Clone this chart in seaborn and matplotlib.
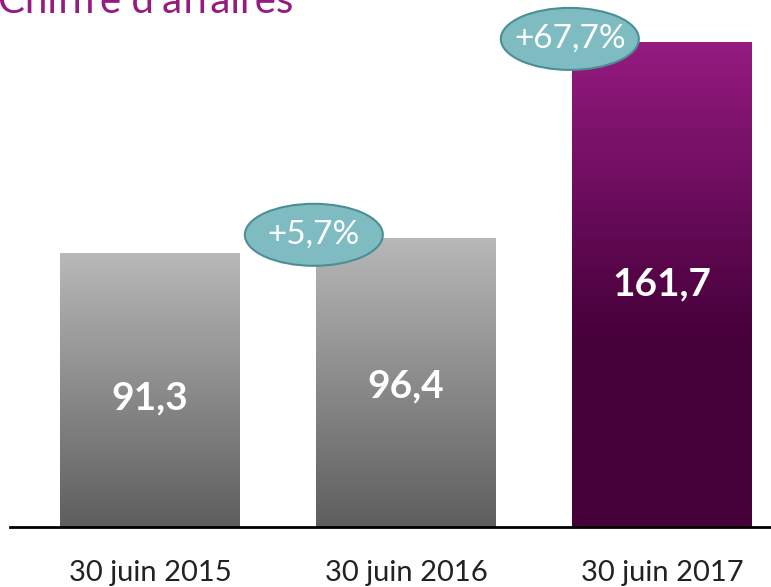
"""
Chiffre d'affaires au 30 juin - barres avec dégradé
"""

import numpy as np
import pandas as pd
import matplotlib
matplotlib.use("Agg")
import matplotlib.pyplot as plt
from matplotlib.colors import LinearSegmentedColormap
from matplotlib.patches import Ellipse
import seaborn as sns

# Données
periodes = ["30 juin 2015", "30 juin 2016", "30 juin 2017"]
valeurs = [91.3, 96.4, 161.7]
etiquettes = ["91,3", "96,4", "161,7"]
variations = ["", "+5,7%", "+67,7%"]

df = pd.DataFrame({"periode": periodes, "valeur": valeurs})

sns.set_theme(style="white")
plt.rcParams["font.family"] = ["Lato", "DejaVu Sans"]

fig = plt.figure(figsize=(7.71, 5.87), dpi=100)
ax = fig.add_axes([10 / 771, 60 / 587, 761 / 771, 527 / 587])

sns.barplot(data=df, x="periode", y="valeur", color="#999999", width=0.7, ax=ax)

ax.set_ylim(0, 527 / 3.0)
ax.set_xlim(-140 / 256, 2 + 109 / 256)

# Dégradés
gris = LinearSegmentedColormap.from_list("gris", ["#5e5e5e", "#b8b8b8"])
violet = LinearSegmentedColormap.from_list(
    "violet", [(0, "#45003a"), (0.4, "#47003b"), (1, "#951b81")])
grad = np.linspace(0, 1, 256).reshape(-1, 1)

for i, barre in enumerate(ax.patches):
    x0, y0 = barre.get_x(), barre.get_y()
    w, h = barre.get_width(), barre.get_height()
    cmap = violet if i == 2 else gris
    img = ax.imshow(grad, cmap=cmap, aspect="auto", origin="lower",
                    extent=[x0, x0 + w, y0, y0 + h], zorder=2)
    img.set_clip_path(barre)
    barre.set_edgecolor("none")

# Valeurs dans les barres
pos_etiquettes = [43, 47, 81]
for i, (txt, yy) in enumerate(zip(etiquettes, pos_etiquettes)):
    ax.text(i, yy, txt, ha="center", va="center", color="white",
            fontsize=28, fontweight="bold", zorder=4)

# Bulles de variation
for i, txt in enumerate(variations):
    if not txt:
        continue
    cx = i - 0.36
    cy = valeurs[i] + 1
    ell = Ellipse((cx, cy), width=138 / 256, height=62 / 3.0,
                  facecolor="#7fbcc2", edgecolor="#4b8f96", linewidth=1.5,
                  zorder=5, clip_on=False)
    ax.add_patch(ell)
    ax.text(cx, cy, txt, ha="center", va="center", color="white",
            fontsize=24, zorder=6)

# Axes
ax.set_xlabel("")
ax.set_ylabel("")
ax.set_yticks([])
ax.tick_params(axis="x", length=0, pad=24, labelsize=21, labelcolor="#222222")
for cote in ["top", "right", "left"]:
    ax.spines[cote].set_visible(False)
ax.spines["bottom"].set_color("black")
ax.spines["bottom"].set_linewidth(2)
ax.spines["bottom"].set_zorder(7)

# Titre coupé en haut
fig.text(-0.002, 1 - 13 / 587, "Chiffre d'affaires", color="#951b81",
         fontsize=29, ha="left", va="baseline")

fig.savefig("out.png", dpi=100)
